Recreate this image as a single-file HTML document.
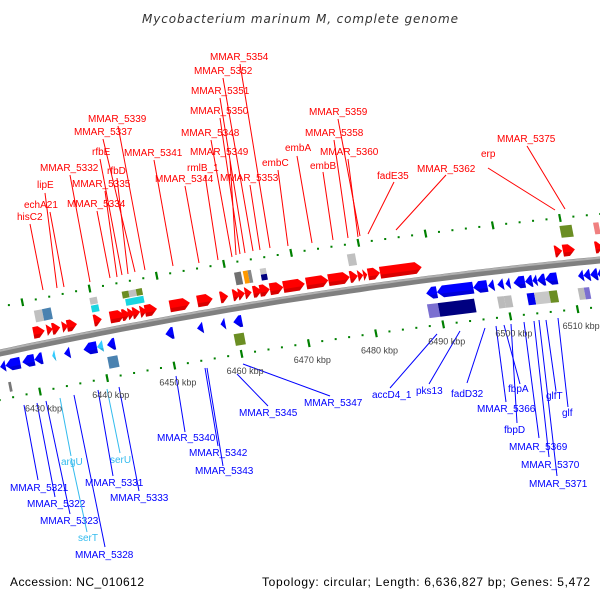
<!DOCTYPE html>
<html><head><meta charset="utf-8">
<style>
html,body{margin:0;padding:0;background:#fff;}
svg{display:block;font-family:"Liberation Sans","DejaVu Sans",sans-serif;}
</style></head>
<body>
<svg id="chart" width="600" height="600" viewBox="0 0 600 600" xmlns="http://www.w3.org/2000/svg">
<rect width="600" height="600" fill="#fff"/>
<text x="300" y="23" text-anchor="middle" font-size="12" font-style="italic" fill="#333" font-family="DejaVu Sans, sans-serif" textLength="316">Mycobacterium marinum M, complete genome</text>
<g id="labels"></g>
<g id="rulers"></g>
<g id="backbone"></g>
<g id="genes"></g>
<text x="10" y="586" font-size="12" fill="#000" textLength="134">Accession: NC_010612</text>
<text x="590" y="586" font-size="12" fill="#000" text-anchor="end" textLength="328">Topology: circular; Length: 6,636,827 bp; Genes: 5,472</text>
</svg>
<script>
// ---- data ----
const fwdStart=[6430.7,6432.7,6433.5,6435.0,6435.7,6439.7,6442.1,6443.9,6444.8,6445.5,6446.6,6447.3,6451.0,6455.1,6458.5,6460.4,6461.2,6462.2,6463.4,6464.4,6465.9,6467.9,6471.3,6474.6,6477.8,6479.0,6479.8,6480.5,6482.3,6508.3,6509.5,6514.3];
const fwdEnd  =[6432.4,6433.6,6434.7,6435.9,6437.2,6440.9,6444.3,6445.1,6445.8,6446.6,6447.6,6449.1,6454.0,6457.4,6459.7,6461.5,6462.2,6463.2,6464.7,6465.9,6467.9,6471.1,6474.6,6477.8,6479.0,6479.8,6480.4,6482.3,6488.5,6509.4,6511.3,6515.5];
const revStart=[6425.0,6425.8,6428.3,6430.1,6432.75,6434.5,6437.4,6439.4,6440.9,6449.6,6454.3,6457.8,6459.7,6488.4,6490.0,6495.4,6497.6,6499.0,6500.2,6501.4,6503.1,6504.2,6504.9,6506.1,6511.0,6511.8,6512.8,6513.9];
const revEnd  =[6425.8,6428.0,6430.1,6431.3,6433.2,6435.4,6439.4,6440.3,6442.1,6450.8,6455.2,6458.5,6461.0,6490.0,6495.4,6497.5,6498.5,6499.9,6500.9,6503.1,6504.2,6504.9,6506.1,6507.9,6511.8,6512.8,6513.9,6514.5];
const revColor=["#0000ff","#0000ff","#0000ff","#0000ff","#33ccff","#0000ff","#0000ff","#33ccff","#0000ff","#0000ff","#0000ff","#0000ff","#0000ff","#0000ff","#0000ff","#0000ff","#0000ff","#0000ff","#0000ff","#0000ff","#0000ff","#0000ff","#0000ff","#0000ff","#0000ff","#0000ff","#0000ff","#0000ff"];
const boxStart=[6425.7,6440.6,6459.4,6488.2,6489.8,6498.6,6499.6,6503.0,6504.1,6506.3,6510.6,6511.5, 6431.4,6432.6,6439.7,6439.7,6444.5,6445.5,6446.6,6444.8,6461.2,6462.5,6463.2,6465.0,6465.0,6478.0,6509.7,6514.7];
const boxEnd  =[6426.1,6442.1,6460.9,6489.8,6495.2,6499.6,6500.7,6504.1,6506.3,6507.5,6511.5,6512.3, 6432.6,6433.9,6440.8,6440.8,6445.5,6446.6,6447.5,6447.5,6462.2,6463.2,6463.7,6465.9,6465.9,6479.2,6511.5,6515.5];
const boxOff  =[36,32,32,32,32,32,32,32,32,32,32,32, -29,-29,-33,-25,-33,-33,-33,-25,-29,-29,-29,-32,-26,-30,-32,-32];
const boxH    =[10,12,12,14,14,12,12,12,12,12,12,12, 12,12,7,7,7,7,7,7,13,13,13,6,6,12,12,12];
const boxColor=["#777","#4a82b0","#6b8e23","#7b6fd0","#000080","#bbbbbb","#bbbbbb","#0000ee","#c8c8c8","#6b8e23","#bbbbbb","#7b6fd0", "#c0c0c0","#4a82b0","#c0c0c0","#19d5e0","#6b8e23","#c0c0c0","#6b8e23","#19d5e0","#707070","#ff9900","#888","#c8c8c8","#000080","#c0c0c0","#6b8e23","#f08080"];
const tickKbp=[6420,6430,6440,6450,6460,6470,6480,6490,6500,6510,6520];
const tickLabels=["6420 kbp","6430 kbp","6440 kbp","6450 kbp","6460 kbp","6470 kbp","6480 kbp","6490 kbp","6500 kbp","6510 kbp","6520 kbp"];
const labelText=["MMAR_5354","MMAR_5352","MMAR_5351","MMAR_5350","MMAR_5348","MMAR_5349","rmlB_1","MMAR_5353","embC","embA","embB","MMAR_5358","MMAR_5359","MMAR_5360","fadE35","MMAR_5362","erp","MMAR_5375","MMAR_5339","MMAR_5337","rfbE","rfbD","MMAR_5341","MMAR_5344","MMAR_5332","MMAR_5335","lipE","echA21","MMAR_5334","hisC2",
"MMAR_5321","MMAR_5322","MMAR_5323","serT","MMAR_5328","argU","serU","MMAR_5331","MMAR_5333","MMAR_5340","MMAR_5342","MMAR_5343","MMAR_5345","MMAR_5347","accD4_1","pks13","fadD32","MMAR_5366","fbpA","fbpD","MMAR_5369","glfT","glf","MMAR_5370","MMAR_5371"];
const labelPos=[[210,60],[194,74],[191,94],[190,114],[181,136],[190,155],[187,171],[220,181],[262,166],[285,151],[310,169],[305,136],[309,115],[320,155],[377,179],[417,172],[481,157],[497,142],[88,122],[74,135],[92,155],[107,174],[124,156],[155,182],[40,171],[72,187],[37,188],[24,208],[67,207],[17,220],
[10,491],[27,507],[40,524],[78,541],[75,558],[61,465],[110,463],[85,486],[110,501],[157,441],[189,456],[195,474],[239,416],[304,406],[372,398],[416,394],[451,397],[477,412],[508,392],[504,433],[509,450],[546,399],[562,416],[521,468],[529,487]];
const labelLine=[[240,64,270,248],[223,78,253,251],[220,98,245,253],[220,118,240,254],[211,140,232,257],[230,160,236,255],[205,175,218,260],[250,185,260,250],[278,170,288,246],[297,156,312,243],[323,172,333,240],[334,140,348,238],[338,119,360,236],[348,159,358,237],[394,182,368,234],[446,175,396,230],[488,168,555,210],[527,146,565,209],[118,126,145,270],[103,139,135,272],[100,159,122,275],[117,178,128,274],[154,160,173,266],[185,186,199,263],[70,175,90,282],[105,191,117,277],[45,193,57,288],[50,212,64,287],[97,211,110,278],[30,224,43,290],
[24,405,38,480],[37,403,55,497],[46,401,70,514],[71,458,87,532],[74,395,105,547],[60,398,71,456],[107,389,120,453],[98,390,113,476],[119,387,139,491],[176,376,185,432],[205,368,218,446],[207,368,223,466],[237,374,268,406],[243,364,330,396],[437,334,390,388],[460,331,429,384],[485,328,467,383],[496,326,506,402],[504,325,520,384],[511,324,517,423],[524,322,539,438],[546,320,556,391],[558,318,568,407],[534,321,549,457],[539,320,557,476]];
const labelColor=[];
for(let i=0;i<labelText.length;i++){labelColor.push(i<30?"#ff0000":"#0000ff");}
labelColor[33]="#33bbee";labelColor[35]="#33bbee";labelColor[36]="#33bbee";

// ---- geometry ----
const NS="http://www.w3.org/2000/svg";
function yb(x){return 353-0.215*x+0.0001*x*x;}
function P(kbp,off){const x=40+(kbp-6430)*6.72+(off-47)*0.19;return [x,yb(x)+off];}
function mk(tag,attrs,parent){const e=document.createElementNS(NS,tag);for(const k in attrs)e.setAttribute(k,attrs[k]);parent.appendChild(e);return e;}
function pts(a){return a.map(p=>p[0].toFixed(1)+","+p[1].toFixed(1)).join(" ");}

const gL=document.getElementById("labels");
for(let i=0;i<labelText.length;i++){
  const l=labelLine[i];
  const ln=mk("line",{x1:l[0],y1:l[1],x2:l[2],y2:l[3],stroke:labelColor[i],"stroke-width":1},gL);
  
  
  const t=mk("text",{x:labelPos[i][0],y:labelPos[i][1],"font-size":10,fill:labelColor[i]},gL);
  t.textContent=labelText[i];
  
  
}

const gR=document.getElementById("rulers");
[[47,true],[-46,false]].forEach(([off,lab])=>{
  for(let k=6418;k<=6524;k+=2){
    if(k%10===0){
      const a=P(k,off-4),b=P(k,off+4);
      const d=mk("line",{x1:a[0],y1:a[1],x2:b[0],y2:b[1],stroke:"#008000","stroke-width":2.2},gR);
      
      
    } else {
      const a=P(k,off);
      const d=mk("rect",{x:a[0]-1,y:a[1]-1,width:2,height:2,fill:"#008000"},gR);
      
      
    }
  }
  if(lab){
    tickKbp.forEach((k,i)=>{
      const a=P(k,off);
      const t=mk("text",{x:a[0]-15,y:a[1]+20,"font-size":9,fill:"#444"},gR);
      t.textContent=tickLabels[i];
      
      
    });
  }
});

const gB=document.getElementById("backbone");
let bb=[],bt=[];
for(let x=-10;x<=610;x+=10){bb.push([x,yb(x)]);bt.push([x,yb(x)-2.2]);}
const b1=mk("polyline",{points:pts(bb),fill:"none",stroke:"#808080","stroke-width":7},gB);


const b2=mk("polyline",{points:pts(bt),fill:"none",stroke:"#b0b0b0","stroke-width":2},gB);



const gG=document.getElementById("genes");
function arrow(s,e,off,h,dir,color,name){
  const hl=Math.min(e-s,0.9);
  let p;
  if(dir>0) p=[P(s,off-h/2),P(e-hl,off-h/2),P(e,off),P(e-hl,off+h/2),P(s,off+h/2)];
  else p=[P(e,off-h/2),P(s+hl,off-h/2),P(s,off),P(s+hl,off+h/2),P(e,off+h/2)];
  const g=mk("polygon",{points:pts(p),fill:color},gG);
  
  
  const sh=dir>0?[P(s,off+h/6),P(e-hl*0.33,off+h/6),P(e-hl,off+h/2),P(s,off+h/2)]:[P(e,off+h/6),P(s+hl*0.33,off+h/6),P(s+hl,off+h/2),P(e,off+h/2)];
  const g2=mk("polygon",{points:pts(sh),fill:"#000",opacity:0.15},gG);
  
  
}
for(let i=0;i<fwdStart.length;i++) arrow(fwdStart[i],fwdEnd[i],-13,12,1,"#ff0000","forward-gene");
for(let i=0;i<revStart.length;i++) arrow(revStart[i],revEnd[i],14,12,-1,revColor[i],"reverse-gene");
for(let i=0;i<boxStart.length;i++){
  const o=boxOff[i],h=boxH[i];
  const p=[P(boxStart[i],o-h/2),P(boxEnd[i],o-h/2),P(boxEnd[i],o+h/2),P(boxStart[i],o+h/2)];
  const r=mk("polygon",{points:pts(p),fill:boxColor[i]},gG);
  
  
}
</script>
</body></html>
